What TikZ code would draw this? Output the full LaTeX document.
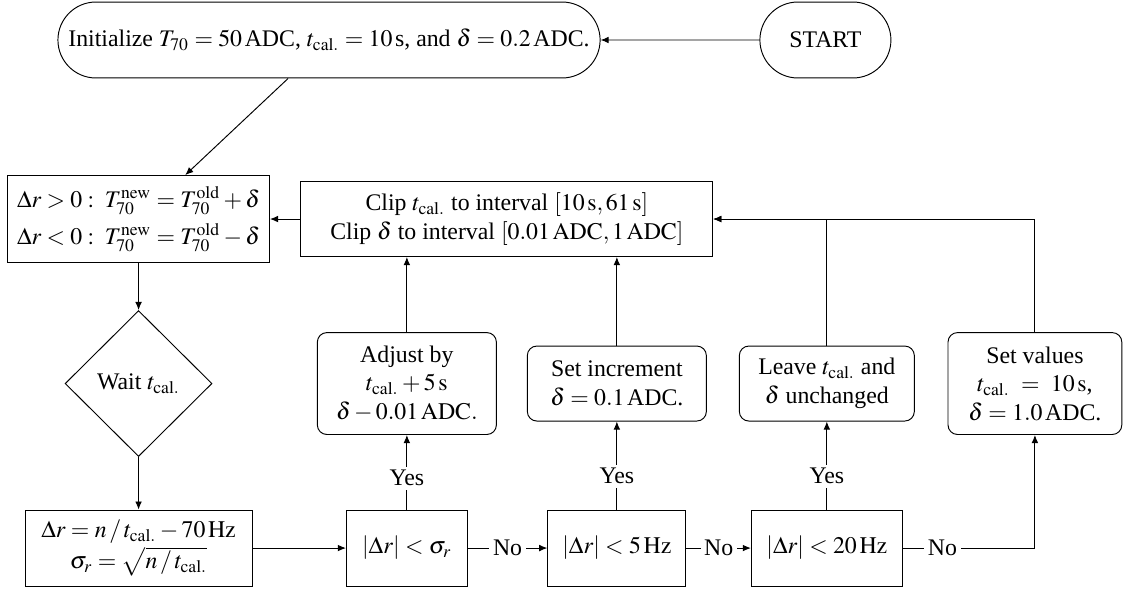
\documentclass[tikz,border=0pt]{standalone}
\usepackage{mathptmx}
\usepackage{fontspec}
\setmainfont{Liberation Serif}
\usetikzlibrary{arrows.meta, positioning, shapes.geometric, shapes.misc}
\newcommand{\tcal}{t_{\mathrm{cal.}}}
\tikzset{
    box/.style={rectangle, draw=black, fill=white, align=center, inner sep=2pt},
    roundbox/.style={box, rounded corners=4pt},
    termbox/.style={rounded rectangle, draw=black, fill=white, align=center, minimum height=31.9pt},
    decision/.style={diamond, draw=black, fill=white, align=center, aspect=1, inner sep=1pt},
    arrow/.style={-{Latex[length=3.4pt, width=2.8pt]}, draw=black},
    lbl/.style={fill=white, inner sep=1.5pt}
}

\begin{document}
\begin{tikzpicture}[node distance=69.1pt and 88.2pt, on grid]
        \useasboundingbox (0,0) rectangle (471.7pt,-249.5pt);
        \node[box, minimum width=110pt, minimum height=36.5pt] (update) at (58.2pt,-92pt) {$\Delta r > 0 :\; T_{70}^{\mathrm{new}} = T_{70}^{\mathrm{old}} + \delta$\\[3.5pt]$\Delta r < 0 :\; T_{70}^{\mathrm{new}} = T_{70}^{\mathrm{old}} - \delta$};
        \node[termbox, minimum width=234.4pt, above right=75.2pt and 80pt of update] (init) {Initialize $T_{70} = 50\,$ADC, $\tcal = 10\,$s, and $\delta = 0.2\,$ADC.};
        \node[termbox, minimum width=61.7pt, right=208.5pt of init] (start) {START};
        \node[box, minimum width=173pt, minimum height=31.5pt, right=154.7pt of update] (clip) {Clip $\tcal$ to interval $[10\,\mathrm{s}, 61\,\mathrm{s}]$\\Clip $\delta$ to interval $[0.01\,\mathrm{ADC}, 1\,\mathrm{ADC}]$};
        \node[decision, minimum width=61.7pt, minimum height=61.3pt, below=of update] (wait) {Wait $\tcal$};
        \node[box, minimum width=95.3pt, minimum height=31.9pt, below=of wait] (calc) {$\Delta r = n\,/\,\tcal - 70\,\mathrm{Hz}$\\[1pt]$\sigma_r = \sqrt{n\,/\,\tcal}$};
        \node[box, minimum width=50.8pt, minimum height=31.9pt, right=112.7pt of calc] (sigma) {$|\Delta r| < \sigma_r$};
        \node[box, minimum width=58pt, minimum height=31.9pt, right=of sigma] (hz5) {$|\Delta r| < 5\,\mathrm{Hz}$};
        \node[box, minimum width=63.4pt, minimum height=31.9pt, right=of hz5] (hz20) {$|\Delta r| < 20\,\mathrm{Hz}$};
        \node[roundbox, minimum width=75.2pt, minimum height=42.8pt, above=of sigma] (adjust) {Adjust by\\$\tcal + 5\,\mathrm{s}$\\$\delta - 0.01\,\mathrm{ADC.}$};
        \node[roundbox, minimum width=75.2pt, minimum height=31.5pt, above=of hz5] (setinc) {Set increment\\$\delta = 0.1\,$ADC.};
        \node[roundbox, minimum width=73.5pt, minimum height=31.5pt, above=of hz20] (leave) {Leave $\tcal$ and\\$\delta$ unchanged};
        \node[roundbox, minimum width=73pt, minimum height=42.8pt, right=87.4pt of leave] (setval) {Set values\\$\tcal\ =\ 10\,\mathrm{s}$,\\$\delta = 1.0\,$ADC.};

        \draw[arrow] (start) -- (init);
        \draw[arrow] (init) -- (update);
        \draw[arrow] (update) -- (wait);
        \draw[arrow] (wait) -- (calc);
        \draw[arrow] (calc) -- (sigma);
        \draw[arrow] (sigma) -- node[lbl] (no1) {No} (hz5);
        \draw[arrow] (hz5) -- node[lbl] (no2) {No} (hz20);
        \draw[arrow] (hz20) -| node[lbl, pos=0.15] (no3) {No} (setval);
        \draw[arrow] (sigma) -- node[lbl, pos=0.42] (yes1) {Yes} (adjust);
        \draw[arrow] (hz5) -- node[lbl, pos=0.38] (yes2) {Yes} (setinc);
        \draw[arrow] (hz20) -- node[lbl, pos=0.38] (yes3) {Yes} (leave);
        \draw[arrow] (adjust) -- (adjust |- clip.south);
        \draw[arrow] (setinc) -- (setinc |- clip.south);
        \draw[arrow] (leave) |- (clip);
        \draw[arrow] (setval) |- (clip);
        \draw[arrow] (clip) -- (update);
    \end{tikzpicture}
\end{document}
